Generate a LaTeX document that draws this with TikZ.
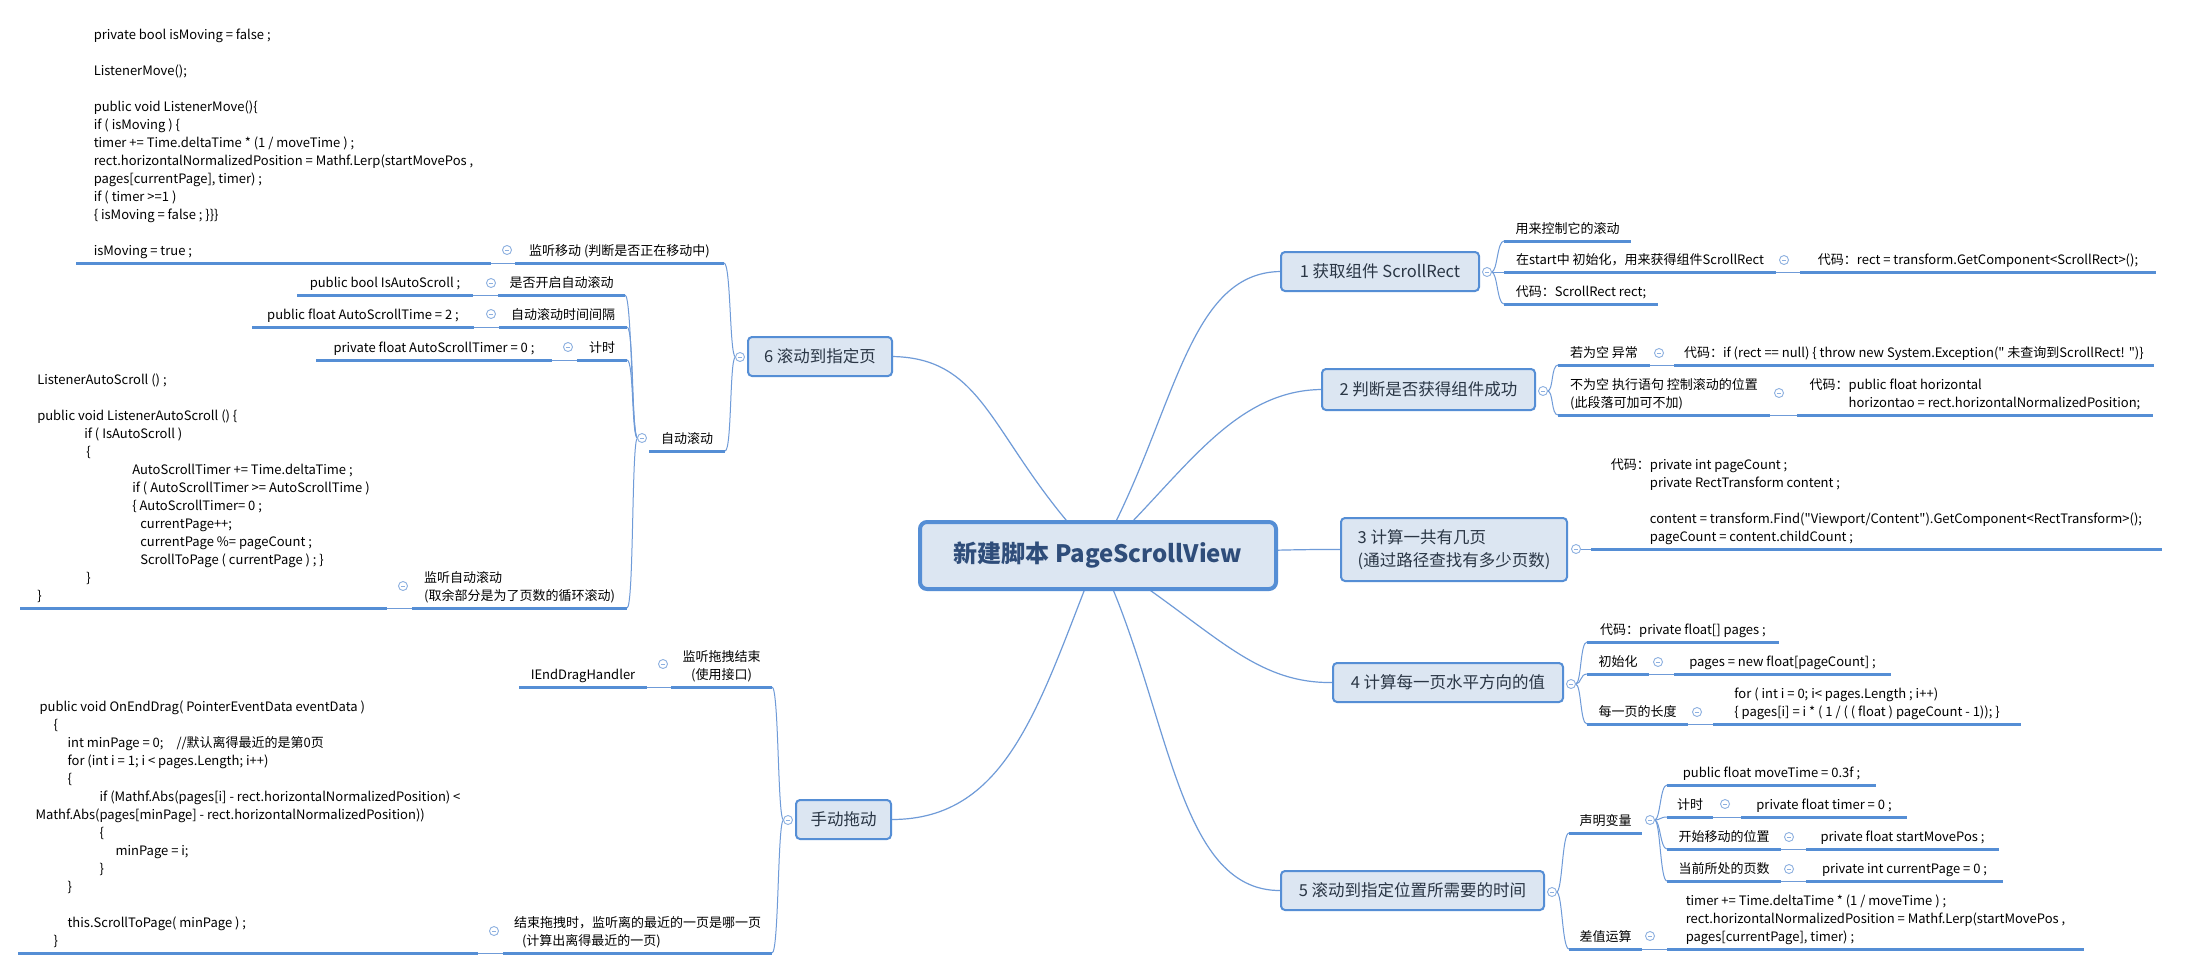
\documentclass[tikz,border=0pt]{standalone}
\usepackage{fontspec}
\setmainfont{Noto Sans CJK SC}[Ligatures=TeXOff]
\usetikzlibrary{backgrounds}
\definecolor{cblue}{HTML}{558ED5}
\definecolor{cline}{HTML}{6F9BD8}
\definecolor{cfill}{HTML}{DCE6F2}
\definecolor{ctitle}{HTML}{2F4D7A}
\definecolor{cbranch}{HTML}{2A3645}
\definecolor{ccirc}{HTML}{8DB0E0}
\newcommand\smf{\fontsize{13}{18}\selectfont}
\newcommand\brf{\fontsize{16.5}{23}\selectfont}
\newcommand\ttlf{\fontsize{24}{28}\selectfont\bfseries}
\newcommand\mns{\rule{4.5pt}{0.9pt}}
\begin{document}
\begin{tikzpicture}[x=1pt,y=-1pt,
  tpR/.style={anchor=south west, minimum width=#1, inner xsep=10pt, inner ysep=2pt, outer sep=0pt,
    align=left, font=\smf, text=black, execute at begin node=\strut, execute at end node=\strut},
  tpL/.style={tpR=#1, anchor=south east},
  brbox/.style={draw=cblue, line width=2pt, fill=cfill, rounded corners=4pt, font=\brf, text=cbranch,
    align=left, inner sep=0pt, outer sep=0pt},
  ctrbox/.style={draw=cblue, line width=4pt, fill=cfill, rounded corners=7pt, font=\ttlf, text=ctitle,
    inner sep=0pt, outer sep=0pt, minimum width=356pt, minimum height=67pt},
  circ/.style={circle, draw=ccirc, line width=0.9pt, fill=white, minimum size=9pt, inner sep=0pt, outer sep=0pt, text=ccirc},
  conn/.style={draw=cline, line width=1.2pt},
  sub/.style={draw=cline, line width=1pt},
  uline/.style={draw=cblue, line width=3pt}]
\useasboundingbox (0,0) rectangle (2187,970);

% ---------- central and main branches ----------
\node[ctrbox] (ctr) at (1098,555.5) {新建脚本 PageScrollView};
\node[brbox, minimum width=198pt, minimum height=39pt] (b1) at (1380,271.5) {1 获取组件 ScrollRect};
\node[brbox, minimum width=213pt, minimum height=41pt] (b2) at (1428.5,389.5) {2 判断是否获得组件成功};
\node[brbox, minimum width=226pt, minimum height=63pt] (b3) at (1454,549.5) {3 计算一共有几页\\(通过路径查找有多少页数)};
\node[brbox, minimum width=230pt, minimum height=39pt] (b4) at (1448,682.5) {4 计算每一页水平方向的值};
\node[brbox, minimum width=263pt, minimum height=39pt] (b5) at (1412.5,890.5) {5 滚动到指定位置所需要的时间};
\node[brbox, minimum width=144pt, minimum height=39pt] (b6) at (820,356.5) {6 滚动到指定页};
\node[brbox, minimum width=95pt, minimum height=39pt] (b7) at (843.5,819.5) {手动拖动};

\node[circ] (k1) at (1487,272) {\mns};
\node[circ] (k2) at (1543,391) {\mns};
\node[circ] (k3) at (1576,549) {\mns};
\node[circ] (k4) at (1571,684) {\mns};
\node[circ] (k5) at (1552,892) {\mns};
\node[circ] (k6) at (740,357) {\mns};
\node[circ] (k7) at (788,820) {\mns};

% ---------- branch 1 ----------
\node[tpR=127pt] (r1a) at (1504,241) {用来控制它的滚动};
\node[tpR=272pt] (r1b) at (1504,272) {在start中 初始化，用来获得组件ScrollRect};
\node[circ] (k1b) at (1784,260) {\mns};
\node[tpR=356pt] (r1b1) at (1800,272) {代码：rect = transform.GetComponent<ScrollRect>();};
\node[tpR=154pt] (r1c) at (1504,304) {代码：ScrollRect rect;};

% ---------- branch 2 ----------
\node[tpR=92pt] (r2a) at (1558,365) {若为空 异常};
\node[circ] (k2a) at (1659,353) {\mns};
\node[tpR=479pt] (r2a1) at (1674,365) {代码：if (rect == null) \{ throw new System.Exception(" 未查询到ScrollRect! ")\}};
\node[tpR=212pt] (r2b) at (1558,415) {不为空 执行语句 控制滚动的位置\\(此段落可加可不加)};
\node[circ] (k2b) at (1779,393) {\mns};
\node[tpR=356pt] (r2b1) at (1797,415) {代码：public float horizontal\\\hspace*{3em}horizontao = rect.horizontalNormalizedPosition;};

% ---------- branch 3 ----------
\node[tpR=571pt] (r3a) at (1591,549) {代码：private int pageCount ;\\\hspace*{3em}private RectTransform content ;\\[18pt]\hspace*{3em}content = transform.Find("Viewport/Content").GetComponent<RectTransform>();\\\hspace*{3em}pageCount = content.childCount ;};

% ---------- branch 4 ----------
\node[tpR=192pt] (r4a) at (1587,642) {代码：private float[] pages ;};
\node[tpR=62pt] (r4b) at (1587,674) {初始化};
\node[circ] (k4b) at (1658,662) {\mns};
\node[tpR=217pt] (r4b1) at (1674,674) {pages = new float[pageCount] ;};
\node[tpR=101pt] (r4c) at (1587,724) {每一页的长度};
\node[circ] (k4c) at (1697,712) {\mns};
\node[tpR=308pt] (r4c1) at (1713,724) {for ( int i = 0; i< pages.Length ; i++)\\\{ pages[i] = i * ( 1 / ( ( float ) pageCount - 1)); \}};

% ---------- branch 5 ----------
\node[tpR=73pt] (r5a) at (1569,833) {声明变量};
\node[circ] (k5a) at (1650,820) {\mns};
\node[tpR=209pt] (r5a1) at (1667,785) {public float moveTime = 0.3f ;};
\node[tpR=46pt] (r5a2) at (1667,817) {计时};
\node[circ] (k5a2) at (1725,804) {\mns};
\node[tpR=166pt] (r5a21) at (1741,817) {private float timer = 0 ;};
\node[tpR=114pt] (r5a3) at (1667,849) {开始移动的位置};
\node[circ] (k5a3) at (1789,837) {\mns};
\node[tpR=193pt] (r5a31) at (1806,849) {private float startMovePos ;};
\node[tpR=114pt] (r5a4) at (1667,881) {当前所处的页数};
\node[circ] (k5a4) at (1789,869) {\mns};
\node[tpR=197pt] (r5a41) at (1806,881) {private int currentPage = 0 ;};
\node[tpR=73pt] (r5b) at (1569,949) {差值运算};
\node[circ] (k5b) at (1650,936) {\mns};
\node[tpR=417pt] (r5b1) at (1667,949) {timer += Time.deltaTime * (1 / moveTime ) ;\\rect.horizontalNormalizedPosition = Mathf.Lerp(startMovePos ,\\pages[currentPage], timer) ;};

% ---------- branch 6 ----------
\node[tpL=209pt] (l6a) at (724,263) {监听移动 (判断是否正在移动中)};
\node[circ] (k6a) at (507,250) {\mns};
\node[tpL=415pt] (l6a1) at (491,263) {private bool isMoving = false ;\\[18pt]ListenerMove();\\[18pt]public void ListenerMove()\{\\if ( isMoving ) \{\\timer += Time.deltaTime * (1 / moveTime ) ;\\rect.horizontalNormalizedPosition = Mathf.Lerp(startMovePos ,\\pages[currentPage], timer) ;\\if ( timer >=1 )\\\{ isMoving = false ; \}\}\}\\[18pt]isMoving = true ;};
\node[tpL=76pt] (l6b) at (725,451) {自动滚动};
\node[circ] (k6b) at (642,438) {\mns};
\node[tpL=127pt] (l6b1) at (625,295) {是否开启自动滚动};
\node[circ] (k6b1) at (491,283) {\mns};
\node[tpL=176pt] (l6b11) at (473,295) {public bool IsAutoScroll ;};
\node[tpL=128pt] (l6b2) at (627,327) {自动滚动时间间隔};
\node[circ] (k6b2) at (491,314) {\mns};
\node[tpL=222pt] (l6b21) at (474,327) {public float AutoScrollTime = 2 ;};
\node[tpL=50pt] (l6b3) at (627,360) {计时};
\node[circ] (k6b3) at (568,347) {\mns};
\node[tpL=236pt] (l6b31) at (552,360) {private float AutoScrollTimer = 0 ;};
\node[tpL=215pt] (l6b4) at (627,608) {监听自动滚动\\(取余部分是为了页数的循环滚动)};
\node[circ] (k6b4) at (403,586) {\mns};
\node[tpL=367pt] (l6b41) at (387,608) {ListenerAutoScroll () ;\\[18pt]public void ListenerAutoScroll () \{\\\hspace*{47pt}if ( IsAutoScroll )\\\hspace*{49pt}\{\\\hspace*{95pt}AutoScrollTimer += Time.deltaTime ;\\\hspace*{95pt}if ( AutoScrollTimer >= AutoScrollTime )\\\hspace*{95pt}\{ AutoScrollTimer= 0 ;\\\hspace*{103pt}currentPage++;\\\hspace*{103pt}currentPage \%= pageCount ;\\\hspace*{103pt}ScrollToPage ( currentPage ) ; \}\\\hspace*{49pt}\}\\\}};

% ---------- manual drag ----------
\node[tpL=101pt, align=center] (l7a) at (772,687) {监听拖拽结束\\(使用接口)};
\node[circ] (k7a) at (663,664) {\mns};
\node[tpL=128pt] (l7a1) at (647,687) {IEndDragHandler};
\node[tpL=269pt] (l7b) at (772,953) {结束拖拽时，监听离的最近的一页是哪一页\\\hspace*{8pt}(计算出离得最近的一页)};
\node[circ] (k7b) at (494,931) {\mns};
\node[tpL=460pt] (l7b1) at (478,953) {\hspace*{4pt}public void OnEndDrag( PointerEventData eventData )\\\hspace*{18pt}\{\\\hspace*{32pt}int minPage = 0;\hspace{1em}//默认离得最近的是第0页\\\hspace*{32pt}for (int i = 1; i < pages.Length; i++)\\\hspace*{32pt}\{\\\hspace*{64pt}if (Mathf.Abs(pages[i] - rect.horizontalNormalizedPosition) <\\Mathf.Abs(pages[minPage] - rect.horizontalNormalizedPosition))\\\hspace*{64pt}\{\\\hspace*{80pt}minPage = i;\\\hspace*{64pt}\}\\\hspace*{32pt}\}\\[18pt]\hspace*{32pt}this.ScrollToPage( minPage ) ;\\\hspace*{18pt}\}};

% ---------- underlines ----------
\foreach \n in {r1a,r1b,r1b1,r1c,r2a,r2a1,r2b,r2b1,r3a,r4a,r4b,r4b1,r4c,r4c1,
  r5a,r5a1,r5a2,r5a21,r5a3,r5a31,r5a4,r5a41,r5b,r5b1,
  l6a,l6a1,l6b,l6b1,l6b11,l6b2,l6b21,l6b3,l6b31,l6b4,l6b41,l7a,l7a1,l7b,l7b1}
  \draw[uline] (\n.south west) -- (\n.south east);

% ---------- connectors ----------
\begin{scope}[on background layer]
\fill[white] (0,0) rectangle (2187,970);
\draw[conn] (ctr.center) .. controls (1175,420) and (1185,272) .. (b1.west);
\draw[conn] (ctr.center) .. controls (1180,480) and (1230,390) .. (b2.west);
\draw[conn] (ctr.center) .. controls (1200,553) and (1280,549) .. (b3.west);
\draw[conn] (ctr.center) .. controls (1210,625) and (1250,684) .. (b4.west);
\draw[conn] (ctr.center) .. controls (1170,705) and (1175,892) .. (b5.west);
\draw[conn] (ctr.center) .. controls (990,445) and (990,358) .. (b6.east);
\draw[conn] (ctr.center) .. controls (1040,700) and (1010,820) .. (b7.east);
\foreach \a/\b in {k1/r1a,k1/r1b,k1/r1c,k2/r2a,k2/r2b,k3/r3a,k4/r4a,k4/r4b,k4/r4c,
  k5/r5a,k5/r5b,k5a/r5a1,k5a/r5a2,k5a/r5a3,k5a/r5a4}
  \draw[sub] (\a.east) .. controls +(6,0) and +(-7,0) .. (\b.south west);
\foreach \a/\b in {k6/l6a,k6/l6b,k6b/l6b1,k6b/l6b2,k6b/l6b3,k6b/l6b4,k7/l7a,k7/l7b}
  \draw[sub] (\a.west) .. controls +(-6,0) and +(7,0) .. (\b.south east);
\foreach \a/\b in {r1b/r1b1,r2a/r2a1,r2b/r2b1,r4b/r4b1,r4c/r4c1,r5a2/r5a21,r5a3/r5a31,r5a4/r5a41,r5b/r5b1}
  \draw[sub] (\a.south east) -- (\b.south west);
\foreach \a/\b in {l6a/l6a1,l6b1/l6b11,l6b2/l6b21,l6b3/l6b31,l6b4/l6b41,l7a/l7a1,l7b/l7b1}
  \draw[sub] (\a.south west) -- (\b.south east);
\end{scope}
\end{tikzpicture}
\end{document}
